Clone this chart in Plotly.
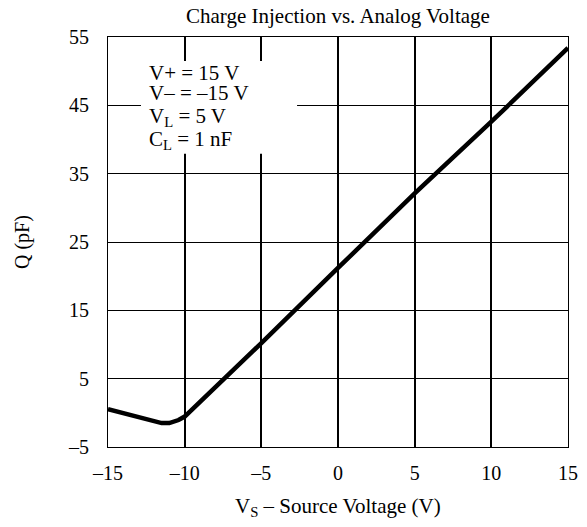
import plotly.graph_objects as go

# Data
vs = [-15, -14, -13, -12, -11.5, -11, -10.7, -10.4, -10, -5, 0, 5, 10, 15]
q = [0.55, -0.05, -0.65, -1.3, -1.5, -1.5, -1.35, -1.05, -0.55, 10.2, 21.2, 32.1, 42.6, 53.4]

x_ticks = [-15, -10, -5, 0, 5, 10, 15]
x_ticktext = ["–15", "–10", "–5", "0", "5", "10", "15"]
y_ticks = [-5, 5, 15, 25, 35, 45, 55]
y_ticktext = ["–5", "5", "15", "25", "35", "45", "55"]

conditions = ["V+ = 15 V", "V– = –15 V", "V<sub>L</sub> = 5 V", "C<sub>L</sub> = 1 nF"]

FONT = "Liberation Serif, Times New Roman, serif"

fig = go.Figure()
fig.add_trace(go.Scatter(x=vs, y=q, mode="lines",
                         line=dict(color="black", width=4.5),
                         hoverinfo="skip", showlegend=False))

fig.update_layout(
    width=587, height=527,
    margin=dict(l=100, r=27, t=29, b=88),
    paper_bgcolor="white", plot_bgcolor="white",
    font=dict(family=FONT, size=20, color="black"),
    showlegend=False,
)
fig.update_xaxes(range=[-15, 15], tickvals=x_ticks, ticktext=x_ticktext,
                 showgrid=True, gridcolor="black", gridwidth=2,
                 showline=True, linecolor="black", linewidth=1, mirror=True,
                 ticks="", zeroline=False, ticklabelstandoff=8,
                 tickfont=dict(family=FONT, size=20))
fig.update_yaxes(range=[-5, 55], tickvals=y_ticks, ticktext=y_ticktext,
                 showgrid=True, gridcolor="black", gridwidth=1,
                 showline=True, linecolor="black", linewidth=1, mirror=True,
                 ticks="", zeroline=False, ticklabelstandoff=14,
                 tickfont=dict(family=FONT, size=20))

# White box behind condition text
fig.add_shape(type="rect", xref="x", yref="y", x0=-12.85, x1=-2.67, y0=37.9, y1=51.5,
              fillcolor="white", line=dict(width=0), layer="above")

line_y = [49.8, 46.8, 43.3, 40.0]
for txt, yy in zip(conditions, line_y):
    fig.add_annotation(x=-12.45, y=yy, xref="x", yref="y", text=txt, showarrow=False,
                       xanchor="left", yanchor="middle", font=dict(family=FONT, size=21))

fig.add_annotation(text="Charge Injection vs. Analog Voltage", xref="paper", yref="paper",
                   x=0.5, y=1, yshift=21, showarrow=False, xanchor="center", yanchor="middle",
                   font=dict(family=FONT, size=21))
fig.add_annotation(text="V<sub>S</sub> – Source Voltage (V)", xref="paper", yref="paper",
                   x=0.5, y=0, yshift=-60, showarrow=False, xanchor="center", yanchor="middle",
                   font=dict(family=FONT, size=21))
fig.add_annotation(text="Q (pF)", xref="paper", yref="paper", textangle=-90,
                   x=0, xshift=-86, y=0.5, showarrow=False, xanchor="center", yanchor="middle",
                   font=dict(family=FONT, size=20))

fig.write_html("out.html")
